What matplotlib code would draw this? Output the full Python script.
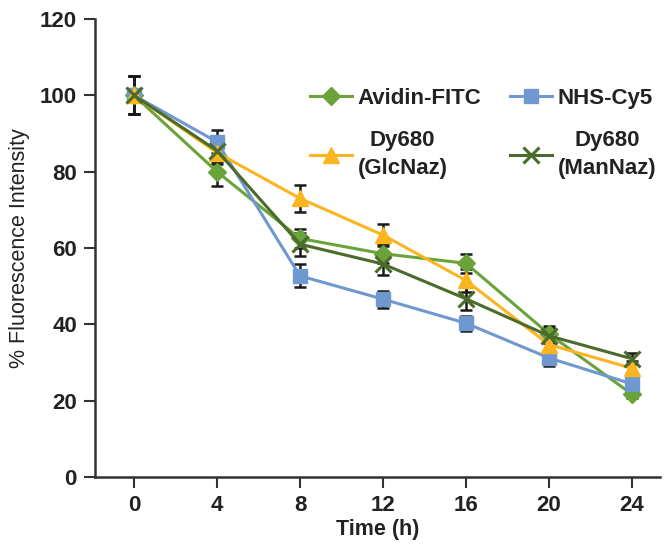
import matplotlib
matplotlib.use("Agg")
import matplotlib.pyplot as plt

plt.rcParams['font.family'] = ['Liberation Sans', 'DejaVu Sans']

time_h = [0, 4, 8, 12, 16, 20, 24]

avidin_fitc = [100, 80.0, 62.5, 58.5, 56.0, 37.5, 21.7]
avidin_err = [5.0, 3.8, 2.5, 2.5, 2.5, 2.0, 1.0]

nhs_cy5 = [100, 87.8, 52.7, 46.6, 40.3, 31.2, 24.4]
nhs_err = [5.0, 3.0, 3.0, 2.2, 2.0, 2.0, 2.0]

dy680_glc = [100, 85.0, 73.0, 63.4, 51.5, 34.7, 28.5]
glc_err = [5.0, 3.0, 3.5, 3.0, 3.0, 2.0, 2.0]

dy680_man = [100, 85.5, 61.0, 55.8, 46.7, 37.0, 31.0]
man_err = [5.0, 3.0, 3.0, 3.0, 3.0, 2.0, 1.5]

labels = ["Avidin-FITC", "NHS-Cy5", "Dy680\n(GlcNaz)", "Dy680\n(ManNaz)"]

fig = plt.figure(figsize=(6.7, 5.48), dpi=100)
ax = fig.add_axes([0.1418, 0.1296, 0.843, 0.8357])

series = [
    (avidin_fitc, avidin_err, '#6aa339', 'D', 9.5),
    (nhs_cy5, nhs_err, '#6f98d0', 's', 10.5),
    (dy680_glc, glc_err, '#fbb521', '^', 12),
    (dy680_man, man_err, '#4a6b2a', 'x', 11),
]

handles = []
for (vals, err, col, mk, ms), lab in zip(series, labels):
    ax.errorbar(time_h, vals, yerr=err, fmt='none', ecolor='#1a1a1a',
                elinewidth=1.8, capsize=4, capthick=1.8, zorder=2)
for (vals, err, col, mk, ms), lab in zip(series, labels):
    if mk == 'x':
        h, = ax.plot(time_h, vals, color=col, marker=mk, markersize=ms,
                     markeredgewidth=2.2, linewidth=2.2, label=lab, zorder=3)
    else:
        h, = ax.plot(time_h, vals, color=col, marker=mk, markersize=ms,
                     markeredgecolor=col, linewidth=2.2, label=lab, zorder=3)
    handles.append(h)

ax.set_xlim(-1.88, 25.35)
ax.set_ylim(0, 120)
ax.set_xticks(time_h)
ax.set_yticks([0, 20, 40, 60, 80, 100, 120])

for s in ['top', 'right']:
    ax.spines[s].set_visible(False)
for s in ['left', 'bottom']:
    ax.spines[s].set_linewidth(1.8)
    ax.spines[s].set_color('#333333')

ax.tick_params(axis='both', direction='out', length=8, width=1.5, color='#333333',
               labelsize=16, pad=5)
for t in ax.get_xticklabels() + ax.get_yticklabels():
    t.set_fontweight('bold')
    t.set_color('#222222')

ax.set_xlabel('Time (h)', fontsize=15.5, fontweight='bold', color='#222222', labelpad=2)
ax.set_ylabel('% Fluorescence Intensity', fontsize=15.5, color='#222222', labelpad=7)

order = [0, 2, 1, 3]
leg = ax.legend(handles=[handles[i] for i in order], labels=[labels[i] for i in order],
                ncol=2, frameon=False,
                loc='upper left', bbox_to_anchor=(0.38, 0.85),
                borderpad=0, borderaxespad=0,
                prop={'weight': 'bold', 'size': 16}, handlelength=1.9,
                handletextpad=0.25, columnspacing=1.3, labelspacing=0.95)
for t in leg.get_texts():
    t.set_multialignment('center')
    t.set_linespacing(1.45)
    t.set_color('#222222')

fig.savefig('out.png', dpi=100)
